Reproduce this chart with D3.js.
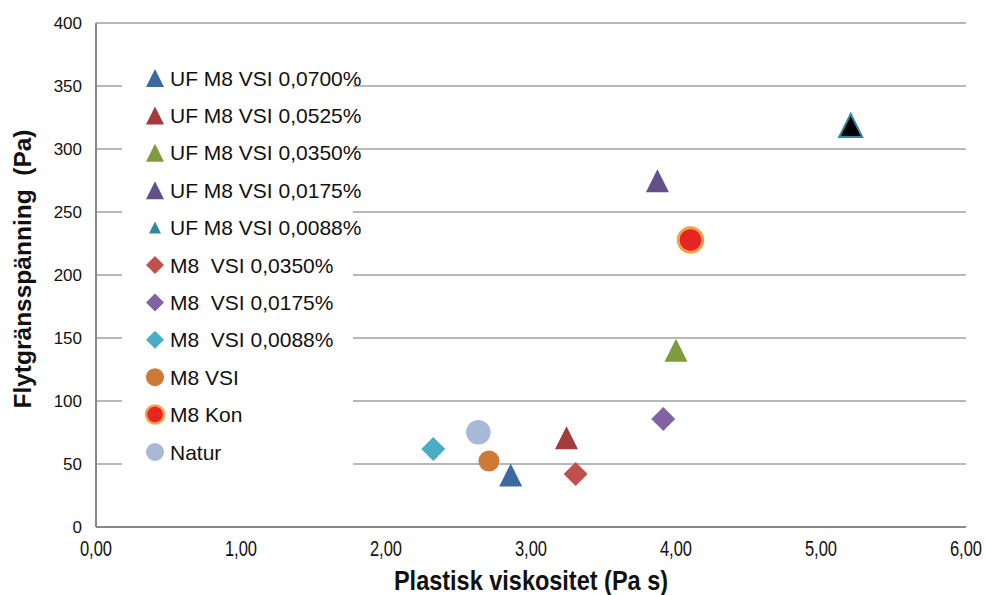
<!DOCTYPE html>
<html>
<head>
<meta charset="utf-8">
<script src="https://cdn.jsdelivr.net/npm/d3@7"></script>
<style>
  html, body { margin: 0; padding: 0; background: #fff; }
  svg { display: block; font-family: "Liberation Sans", Arial, sans-serif; }
</style>
</head>
<body>
<svg id="chart" width="985" height="595"></svg>
<script>
// ---- data ----
const seriesNames = [
  "UF M8 VSI 0,0700%", "UF M8 VSI 0,0525%", "UF M8 VSI 0,0350%", "UF M8 VSI 0,0175%",
  "UF M8 VSI 0,0088%", "M8  VSI 0,0350%", "M8  VSI 0,0175%", "M8  VSI 0,0088%",
  "M8 VSI", "M8 Kon", "Natur"
];
const xValues = [2.86, 3.245, 4.00, 3.872, 5.205, 3.308, 3.912, 2.326, 2.71, 4.10, 2.637];
const yValues = [41.3, 70.9, 140.2, 274.8, 318.7, 42.1, 85.7, 61.9, 52.4, 227.8, 75.2];
const markerShapes = ["triangle","triangle","triangle","triangle","triangle","diamond","diamond","diamond","circle","circle","circle"];
const fillColors = ["#3B69A2","#A23B3A","#7E9B3F","#62508A","#000000","#C0504D","#8064A2","#4BACC6","#CC7A35","#E42522","#A8B9D8"];
const legendFill = ["#3B69A2","#A23B3A","#7E9B3F","#62508A","#31889F","#C0504D","#8064A2","#4BACC6","#CC7A35","#E42522","#A8B9D8"];
const strokeColors = [null,null,null,null,"#31889F",null,null,null,null,"#F5A04B",null];
const xTicks = [0,1,2,3,4,5,6];
const yTicks = [0,50,100,150,200,250,300,350,400];
const xTitle = "Plastisk viskositet (Pa s)";
const yTitle = "Flytgränsspänning  (Pa)";

// ---- layout ----
const svg = d3.select("#chart");
const x = d3.scaleLinear().domain([0, 6]).range([96, 966]);
const y = d3.scaleLinear().domain([0, 400]).range([527, 23]);
const fmtX = v => d3.format(".2f")(v).replace(".", ",");

function markerPath(shape, s) {
  const h = s / 2;
  if (shape === "triangle") return `M0,${-h}L${h},${h}L${-h},${h}Z`;
  if (shape === "diamond") return `M0,${-h}L${h},0L0,${h}L${-h},0Z`;
  return d3.arc()({innerRadius: 0, outerRadius: h, startAngle: 0, endAngle: 2 * Math.PI});
}

// gridlines
svg.append("g").selectAll("line").data(yTicks.filter(d => d > 0)).join("line")
  .attr("x1", x(0)).attr("x2", x(6))
  .attr("y1", d => y(d)).attr("y2", d => y(d))
  .attr("stroke", "#a0a0a0").attr("stroke-width", 1.6);

// axes lines
svg.append("line").attr("x1", x(0)).attr("x2", x(0)).attr("y1", y(0)).attr("y2", y(400))
  .attr("stroke", "#888").attr("stroke-width", 2);
svg.append("line").attr("x1", x(0)).attr("x2", x(6)).attr("y1", y(0)).attr("y2", y(0))
  .attr("stroke", "#888").attr("stroke-width", 2);

// y tick labels
svg.append("g").selectAll("text").data(yTicks).join("text")
  .attr("x", 82).attr("y", d => y(d)).attr("dy", "0.35em")
  .attr("text-anchor", "end").attr("font-size", 17).attr("fill", "#111")
  .text(d => d);

// x tick labels (condensed)
svg.append("g").selectAll("text").data(xTicks).join("text")
  .attr("transform", d => `translate(${x(d)},556) scale(0.75,1)`)
  .attr("text-anchor", "middle").attr("font-size", 22).attr("fill", "#111")
  .text(d => fmtX(d));

// axis titles
svg.append("text")
  .attr("transform", `translate(${x(3)},590) scale(0.87,1)`)
  .attr("text-anchor", "middle").attr("font-size", 27).attr("font-weight", "bold")
  .attr("fill", "#111").text(xTitle);
svg.append("text")
  .attr("transform", `translate(31,269) rotate(-90)`)
  .attr("text-anchor", "middle").attr("font-size", 24.5).attr("font-weight", "bold")
  .attr("fill", "#111").style("white-space", "pre").text(yTitle);

// legend background
const legendTop = 78, legendStep = 37.4;
svg.append("rect").attr("x", 122).attr("y", 58).attr("width", 231).attr("height", 414).attr("fill", "#fff");

const leg = svg.append("g").selectAll("g").data(seriesNames).join("g")
  .attr("transform", (d, i) => `translate(155,${legendTop + i * legendStep})`);
leg.append("path")
  .attr("d", (d, i) => markerPath(markerShapes[i], i === 4 ? 12 : 18))
  .attr("fill", (d, i) => legendFill[i])
  .attr("stroke", (d, i) => i === 9 ? strokeColors[i] : "none")
  .attr("stroke-width", 2.5);
leg.append("text")
  .attr("x", 15).attr("dy", "0.36em").attr("font-size", 21).attr("fill", "#111")
  .style("white-space", "pre").text(d => d);

// points
svg.append("g").selectAll("path").data(seriesNames).join("path")
  .attr("transform", (d, i) => `translate(${x(xValues[i])},${y(yValues[i])})`)
  .attr("d", (d, i) => markerPath(markerShapes[i], markerShapes[i] === "circle" ? (i === 8 ? 21 : 24.5) : (markerShapes[i] === "diamond" ? 24 : 23)))
  .attr("fill", (d, i) => fillColors[i])
  .attr("stroke", (d, i) => strokeColors[i] || "none")
  .attr("stroke-width", (d, i) => i === 9 ? 3 : 2);
</script>
</body>
</html>
